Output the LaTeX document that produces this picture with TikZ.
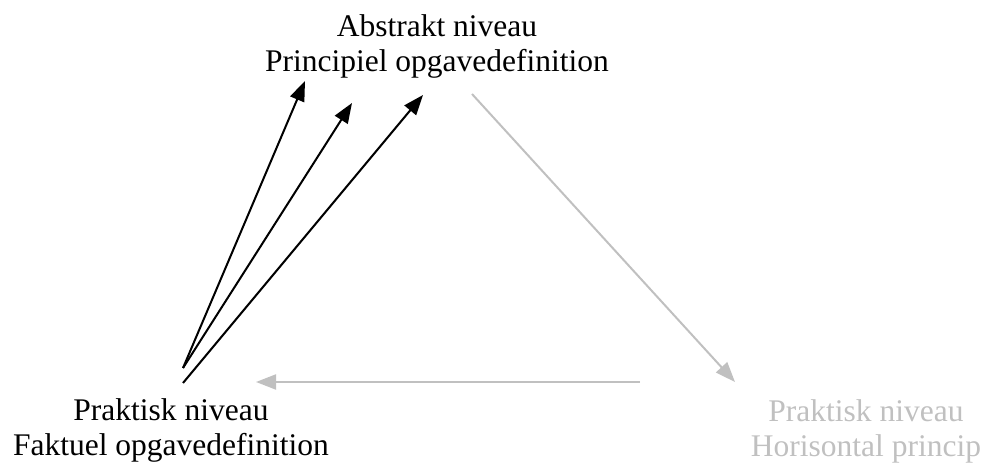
\documentclass[tikz,border=0pt]{standalone}
\usepackage{fontspec}
\setmainfont{Liberation Serif}
\usetikzlibrary{arrows.meta}
\definecolor{lysgraa}{RGB}{192,192,192}
\begin{document}
\begin{tikzpicture}[x=0.5pt, y=-0.5pt, line width=1pt,
    every node/.style={inner sep=0pt, align=center, font=\fontsize{15.75}{17.5}\selectfont},
    pil/.style={-{Triangle[length=10pt,width=7.5pt]}},
    graapil/.style={pil, draw=lysgraa, fill=lysgraa}]
        \useasboundingbox (0,0) rectangle (986,464);
        \node [anchor=base] (abstrakt) at (437,72) {Abstrakt niveau\\Principiel opgavedefinition};
        \node [anchor=base] (faktuel) at (171,456) {Praktisk niveau\\Faktuel opgavedefinition};
        \node [anchor=base] [text=lysgraa] (horisontal) at (866,457) {Praktisk niveau\\Horisontal princip};
        \coordinate (fra1) at (183,368);
        \coordinate (fra2) at (183,383);
        \coordinate (til1) at (305,81);
        \coordinate (til2) at (352,103);
        \coordinate (til3) at (423,95);
        \coordinate (top) at (472,94);
        \coordinate (hoejre) at (735,382);
        \coordinate (midt) at (640,382);
        \coordinate (venstre) at (256,382);
        \draw [pil] (fra1) -- (til1);
        \draw [pil] (fra1) -- (til2);
        \draw [pil] (fra2) -- (til3);
        \draw [graapil] (top) -- (hoejre);
        \draw [graapil] (midt) -- (venstre);
      \end{tikzpicture}
\end{document}
